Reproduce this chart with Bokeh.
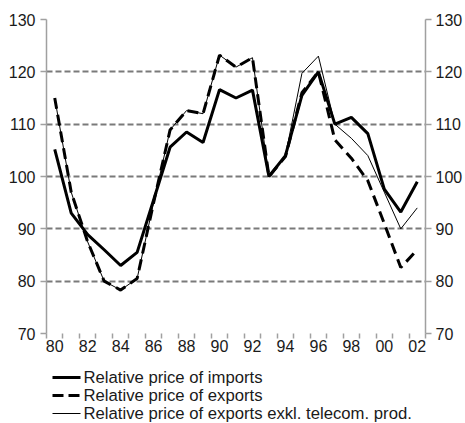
from bokeh.plotting import figure
from bokeh.layouts import column
from bokeh.models import Range1d, LinearAxis, FixedTicker
from bokeh.core.properties import value
from bokeh.embed import file_html
from bokeh.resources import INLINE

years = list(range(1980, 2003))
imports = [105.2, 93.0, 88.9, 86.0, 83.0, 85.5, 95.5, 105.6, 108.5, 106.5, 116.6, 115.0,
           116.5, 100.0, 104.0, 115.5, 120.0, 110.0, 111.3, 108.2, 97.6, 93.2, 99.0]
exports = [115.0, 97.0, 87.5, 80.0, 78.3, 80.5, 95.0, 108.9, 112.6, 112.0, 123.2, 120.9,
           122.7, 100.0, 103.8, 116.0, 120.0, 107.0, 103.5, 99.2, 91.0, 82.6, 86.0]
exports_excl = [115.0, 97.0, 87.5, 80.0, 78.3, 80.5, 95.0, 108.9, 112.6, 112.0, 123.2, 120.9,
                122.7, 100.0, 104.0, 119.7, 123.0, 110.0, 107.3, 104.0, 97.0, 90.0, 94.0]
series_names = ["Relative price of imports", "Relative price of exports",
                "Relative price of exports exkl. telecom. prod."]
x_label_years = list(range(1980, 2003, 2))
x_tick_labels = ["80", "82", "84", "86", "88", "90", "92", "94", "96", "98", "00", "02"]
y_ticks = [70, 80, 90, 100, 110, 120, 130]

FONT = "Liberation Sans"
AXIS_COL = "#a0a0a0"
GRID_COL = "#7a7a7a"
TEXT_COL = "#1a1a1a"
W = 465
MAIN_H = 360
LEG_H = 63

p = figure(width=W, height=MAIN_H, output_backend="svg", toolbar_location=None,
           x_range=Range1d(years[0] - 0.5, years[-1] + 0.5), y_range=Range1d(70, 130),
           x_axis_location="below", y_axis_location="left", frame_align=False,
           min_border_left=46, min_border_right=40, min_border_top=19, min_border_bottom=27)
p.outline_line_color = None
p.background_fill_color = "white"
p.border_fill_color = "white"

# bottom axis: labels at year centres, ticks at band boundaries
xa = p.xaxis[0]
xa.ticker = FixedTicker(ticks=x_label_years,
                        minor_ticks=[y - 0.5 for y in years] + [years[-1] + 0.5])
xa.major_label_overrides = {yr: lab for yr, lab in zip(x_label_years, x_tick_labels)}
xa.major_tick_line_color = None
xa.major_tick_out = 0
xa.major_tick_in = 0
xa.minor_tick_in = 0
xa.minor_tick_out = 5
xa.minor_tick_line_color = AXIS_COL
xa.minor_tick_line_width = 1.5
xa.axis_line_color = None
xa.major_label_standoff = 1
xa.major_label_text_font = FONT
xa.major_label_text_font_size = "16px"
xa.major_label_text_color = TEXT_COL

def style_y(ax, standoff):
    ax.ticker = FixedTicker(ticks=y_ticks, minor_ticks=[])
    ax.major_tick_in = 0
    ax.major_tick_out = 6
    ax.major_tick_line_color = AXIS_COL
    ax.major_tick_line_width = 1.5
    ax.axis_line_color = AXIS_COL
    ax.axis_line_width = 1.5
    ax.major_label_standoff = standoff
    ax.major_label_text_font = FONT
    ax.major_label_text_font_size = "16px"
    ax.major_label_text_color = TEXT_COL

style_y(p.yaxis[0], 5)
ra = LinearAxis()
style_y(ra, 4)
p.add_layout(ra, "right")

p.xgrid.grid_line_color = None
p.ygrid.ticker = FixedTicker(ticks=y_ticks)
p.ygrid.grid_line_color = GRID_COL
p.ygrid.grid_line_width = 2
p.ygrid.grid_line_dash = "6 3"

p.line(years, imports, line_color="black", line_width=3)
p.line(years, exports, line_color="black", line_width=3, line_dash="11 6")
p.line(years, exports_excl, line_color="black", line_width=1)

# legend drawn in a second, axis-less figure (pixel-like coordinates)
lg = figure(width=W, height=LEG_H, output_backend="svg", toolbar_location=None,
            x_axis_type=None, y_axis_type=None, frame_align=False,
            x_range=Range1d(0, W), y_range=Range1d(0, LEG_H),
            min_border_left=0, min_border_right=0, min_border_top=0, min_border_bottom=0)
lg.grid.visible = False
lg.outline_line_color = None
lg.border_fill_color = "white"
lg.background_fill_color = "white"

row_y = [LEG_H - 17, LEG_H - 35, LEG_H - 53]
sw_x0, sw_x1, txt_x = 52, 80, 83
styles = [dict(line_width=3), dict(line_width=3, line_dash="11 5"), dict(line_width=1)]
for yy, st in zip(row_y, styles):
    lg.line([sw_x0, sw_x1], [yy, yy], line_color="black", **st)
lg.text(x=[txt_x] * 3, y=row_y, text=series_names, text_baseline="middle",
        text_align="left", text_font=value(FONT), text_font_size="16.7px",
        text_color=TEXT_COL)

open("out.html", "w").write(file_html(column(p, lg, spacing=0), INLINE))
